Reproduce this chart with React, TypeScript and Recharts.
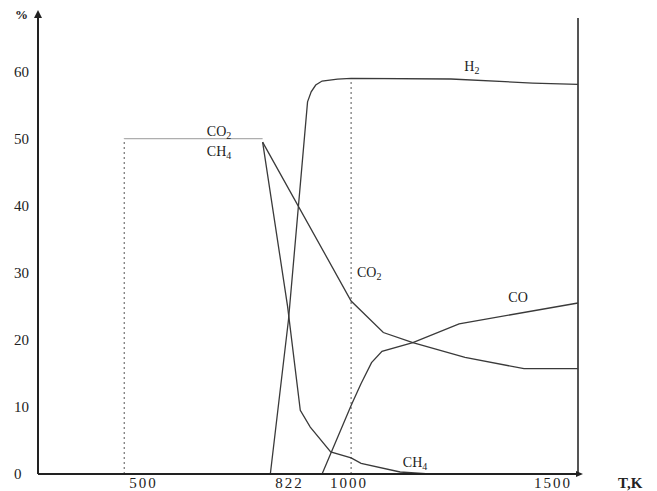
import React from 'react';
import { LineChart, Line, XAxis, YAxis, ReferenceLine, ReferenceDot } from 'recharts';

// gas composition (%) vs temperature (K)
const h2Data = [
  { t: 822, v: 0 },
  { t: 862, v: 23 },
  { t: 904, v: 55.5 },
  { t: 912, v: 57 },
  { t: 922, v: 58 },
  { t: 936, v: 58.6 },
  { t: 970, v: 58.9 },
  { t: 1000, v: 59 },
  { t: 1220, v: 58.9 },
  { t: 1400, v: 58.3 },
  { t: 1500, v: 58.1 },
];

const co2Data = [
  { t: 805, v: 49.5 },
  { t: 1000, v: 25.8 },
  { t: 1071, v: 21.1 },
  { t: 1136, v: 19.6 },
  { t: 1251, v: 17.4 },
  { t: 1381, v: 15.7 },
  { t: 1500, v: 15.7 },
];

const ch4Data = [
  { t: 805, v: 49.5 },
  { t: 860, v: 25 },
  { t: 888, v: 9.5 },
  { t: 910, v: 7 },
  { t: 955, v: 3.3 },
  { t: 1000, v: 2.4 },
  { t: 1022, v: 1.6 },
  { t: 1108, v: 0.3 },
  { t: 1173, v: 0 },
];

const coData = [
  { t: 936, v: 0 },
  { t: 1000, v: 10.2 },
  { t: 1022, v: 13.5 },
  { t: 1045, v: 16.6 },
  { t: 1068, v: 18.3 },
  { t: 1136, v: 19.6 },
  { t: 1238, v: 22.4 },
  { t: 1500, v: 25.5 },
];

const tempTicks = [500, 822, 1000, 1500];
const percentTicks = [0, 10, 20, 30, 40, 50, 60];

// initial mixture and marker lines
const startTemp = 500;
const startShare = 50;
const splitTemp = 805;
const markTemp = 1000;
const markH2 = 59;

const curveLabels = [
  { t: 1266, v: 60.8, main: 'H', sub: '2' },
  { t: 1040, v: 30.1, main: 'CO', sub: '2' },
  { t: 1368, v: 26.4, main: 'CO', sub: '' },
  { t: 1141, v: 1.8, main: 'CH', sub: '4' },
  { t: 709, v: 51.2, main: 'CO', sub: '2' },
  { t: 709, v: 48.1, main: 'CH', sub: '4' },
];

const FONT = '"Liberation Serif", "DejaVu Serif", serif';
const INK = '#222';
const LINE = '#3a3a3a';

const TempTick = (props: any) => {
  const { x, y, payload } = props;
  const val = payload.value;
  let anchor = 'start';
  let dx = 5;
  if (val === 1000) { anchor = 'middle'; dx = -2; }
  if (val === 1500) { anchor = 'end'; dx = -6; }
  return (
    <text x={x + dx} y={y + 14} textAnchor={anchor} fontFamily={FONT} fontSize={15} letterSpacing={2} fill={INK}>
      {val}
    </text>
  );
};

const PercentTick = (props: any) => {
  const { x, y, payload } = props;
  return (
    <text x={x - 24} y={y + 5} textAnchor="start" fontFamily={FONT} fontSize={15} fill={INK}>
      {payload.value}
    </text>
  );
};

const CurveLabel = ({ cx, cy, main, sub }: any) => (
  <text x={cx} y={cy + 5} textAnchor="middle" fontFamily={FONT} fontSize={14} fill={INK}>
    {main}
    {sub && <tspan fontSize={10} dy={3}>{sub}</tspan>}
  </text>
);

const YArrow = ({ cx, cy }: any) => (
  <g>
    <line x1={cx} y1={cy} x2={cx} y2={cy - 4} stroke={INK} strokeWidth={2} />
    <polygon points={`${cx},${cy - 8} ${cx - 4},${cy} ${cx + 4},${cy}`} fill={INK} />
    <text x={cx - 23} y={cy + 1} fontFamily={FONT} fontSize={13} fontWeight="bold" fill={INK}>%</text>
  </g>
);

const XArrow = ({ cx, cy }: any) => (
  <g>
    <polygon points={`${cx + 5},${cy} ${cx - 2},${cy - 3} ${cx - 2},${cy + 3}`} fill={INK} />
    <text x={cx + 40} y={cy + 14} fontFamily={FONT} fontSize={15} fontWeight="bold" fill={INK}>T,K</text>
  </g>
);

const App = () => {
  return (
    <div style={{ fontFamily: FONT, background: '#fff' }}>
      <LineChart width={641} height={483} margin={{ top: 10, right: 71, bottom: 0, left: 0 }}>
        <XAxis
          type="number"
          dataKey="t"
          domain={[310, 1500]}
          ticks={tempTicks}
          allowDuplicatedCategory={false}
          tickLine={false}
          tickSize={0}
          tickMargin={0}
          height={17}
          axisLine={{ stroke: INK, strokeWidth: 2 }}
          tick={<TempTick />}
          interval={0}
        />
        <YAxis
          type="number"
          dataKey="v"
          domain={[0, 68]}
          ticks={percentTicks}
          tickLine={false}
          tickSize={0}
          tickMargin={0}
          width={30}
          axisLine={{ stroke: INK, strokeWidth: 2 }}
          tick={<PercentTick />}
          interval={0}
        />

        {/* frame on the right and guide lines */}
        <ReferenceLine x={1500} stroke="#555" strokeWidth={2} />
        <ReferenceLine
          segment={[{ x: startTemp, y: 0 }, { x: startTemp, y: startShare }]}
          stroke="#555"
          strokeDasharray="2 3"
        />
        <ReferenceLine
          segment={[{ x: startTemp, y: startShare }, { x: splitTemp, y: startShare }]}
          stroke="#9a9a9a"
        />
        <ReferenceLine
          segment={[{ x: markTemp, y: 0 }, { x: markTemp, y: markH2 }]}
          stroke="#555"
          strokeDasharray="2 3"
        />

        <Line data={h2Data} dataKey="v" type="linear" stroke={LINE} strokeWidth={1.3} dot={false} isAnimationActive={false} />
        <Line data={co2Data} dataKey="v" type="linear" stroke={LINE} strokeWidth={1.3} dot={false} isAnimationActive={false} />
        <Line data={ch4Data} dataKey="v" type="linear" stroke={LINE} strokeWidth={1.3} dot={false} isAnimationActive={false} />
        <Line data={coData} dataKey="v" type="linear" stroke={LINE} strokeWidth={1.3} dot={false} isAnimationActive={false} />

        {curveLabels.map((l, i) => (
          <ReferenceDot
            key={i}
            x={l.t}
            y={l.v}
            r={0}
            ifOverflow="visible"
            shape={(p: any) => <CurveLabel cx={p.cx} cy={p.cy} main={l.main} sub={l.sub} />}
          />
        ))}

        <ReferenceDot x={310} y={68} r={0} ifOverflow="visible" shape={(p: any) => <YArrow cx={p.cx} cy={p.cy} />} />
        <ReferenceDot x={1500} y={0} r={0} ifOverflow="visible" shape={(p: any) => <XArrow cx={p.cx} cy={p.cy} />} />
      </LineChart>
    </div>
  );
};

export default App;
